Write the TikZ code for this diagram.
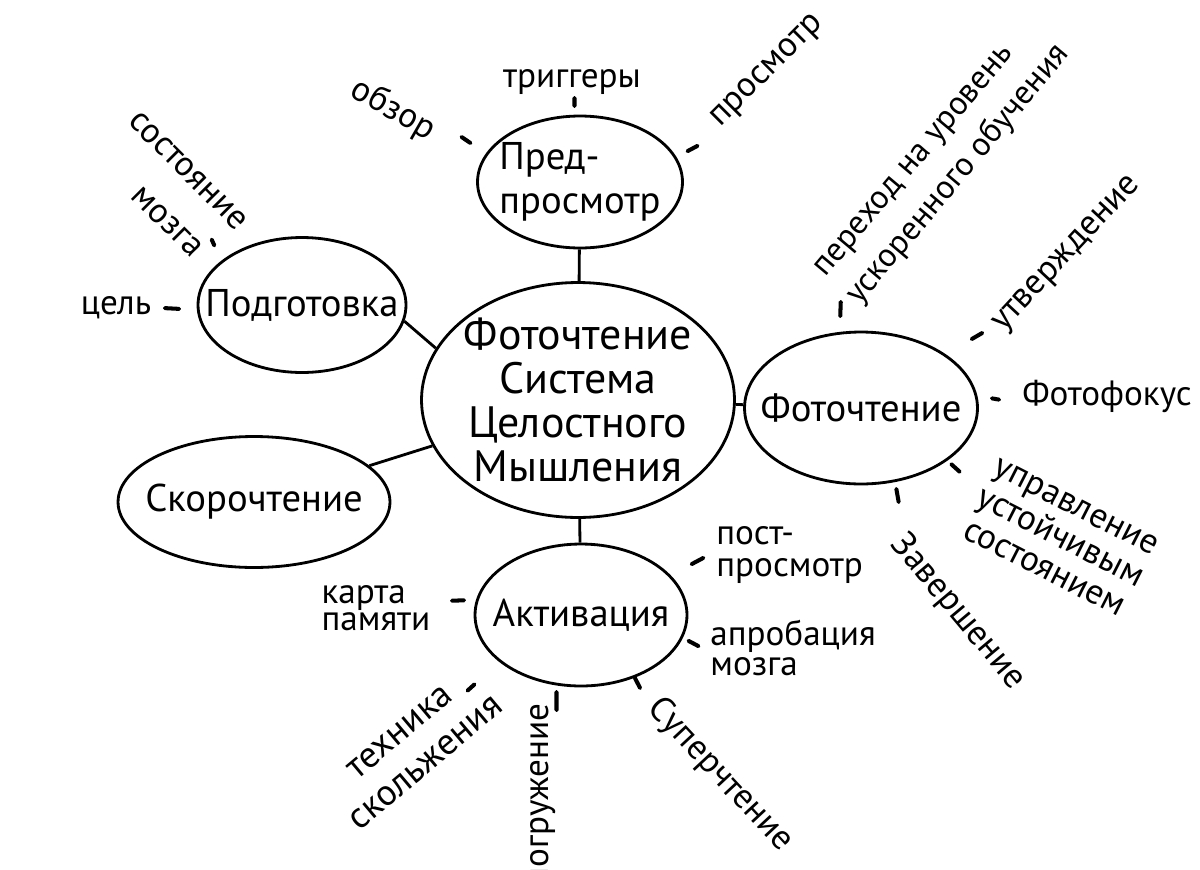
\documentclass[tikz,border=0pt]{standalone}
\usepackage{fontspec}
\setmainfont{PT Sans}
\usetikzlibrary{shapes.geometric}

\begin{document}
\begin{tikzpicture}[
  x=0.02cm, y=-0.02cm,
  every node/.style={inner sep=0pt, font=\fontsize{20}{18}\selectfont}
]
\tikzset{
  krug/.style={draw, ellipse, line width=1.6pt, inner xsep=-30pt, inner ysep=-20pt,
    font=\fontsize{22}{25}\selectfont},
  svyaz/.style={line width=1.6pt},
  shtrih/.style={fill, minimum height=2.3pt, minimum width=#1, rounded corners=1pt}
}
\useasboundingbox (0,0) rectangle (1200,869);

\node[krug, minimum width=6.26cm, minimum height=4.7cm, align=center,
  font=\fontsize{25}{25}\selectfont] (centr) at (578,400)
  {Фоточтение\\Система\\Целостного\\Мышления};
\node[krug, minimum width=4.1cm, minimum height=2.64cm, align=left] (pred) at (580,182) {Пред-\\просмотр};
\node[krug, minimum width=4.16cm, minimum height=2.7cm] (podg) at (302,305) {Подготовка};
\node[krug, minimum width=5.44cm, minimum height=2.62cm] (skor) at (254,502) {Скорочтение};
\node[krug, minimum width=4.66cm, minimum height=3.04cm] (foto) at (861,408) {Фоточтение};
\node[krug, minimum width=4.24cm, minimum height=2.84cm] (aktiv) at (581,615) {Активация};

\draw[svyaz] (centr) -- (pred);
\draw[svyaz] (centr) -- (aktiv);
\draw[svyaz] (centr) -- (foto);
\draw[svyaz] (podg.-9) -- (centr.160);
\draw[svyaz] (skor) -- (centr);

% подписи вокруг овалов
\node[rotate=-30] (obzor) at (393,110) {обзор};
\node (trig) at (572,82) {триггеры};
\node[rotate=45] (prosm) at (768,72) {просмотр};
\node[rotate=-45, align=center, font=\fontsize{20}{29}\selectfont] (sost) at (170,189) {состояние\\\hspace*{1.2em}мозга};
\node (cel) at (116,308) {цель};
\node[rotate=50, align=left, font=\fontsize{19}{25}\selectfont] (perehod) at (944,163)
  {переход на уровень\\ускоренного обучения};
\node[rotate=47] (utv) at (1068,255) {утверждение};
\node (fotof) at (1107,396) {Фотофокус};
\node[rotate=-27, align=center, font=\fontsize{20}{20}\selectfont] (uprav) at (1060,538)
  {управление\\устойчивым\\состоянием};
\node[rotate=-50] (zaver) at (958,612) {Завершение};
\node[anchor=west, align=left] (post) at (716,555) {пост-\\просмотр};
\node[anchor=west, align=left, font=\fontsize{20}{17}\selectfont] (aprob) at (710,648) {апробация\\мозга};
\node[align=left, font=\fontsize{20}{15}\selectfont] (karta) at (376,608) {карта\\памяти};
\node[rotate=40, align=center, font=\fontsize{21}{23}\selectfont] (tehn) at (413,748) {техника\\скольжения};
\node[rotate=90] (pogr) at (543,795) {погружение};
\node[rotate=-47] (super) at (720,775) {Суперчтение};

% штрихи
\node[shtrih=8.2pt, rotate=-34] (sh1) at (466,140) {};
\node[shtrih=6.8pt, rotate=90] (sh2) at (574.5,102) {};
\node[shtrih=8.5pt, rotate=28] (sh3) at (692.5,148.5) {};
\node[shtrih=5.7pt, rotate=-66] (sh4) at (213,242.5) {};
\node[shtrih=10.2pt, rotate=-3] (sh5) at (172,308.5) {};
\node[shtrih=10.2pt, rotate=88] (sh6) at (840.5,309) {};
\node[shtrih=9pt, rotate=30] (sh7) at (977,336) {};
\node[shtrih=6.2pt, rotate=-10] (sh8) at (995.5,399) {};
\node[shtrih=8.5pt, rotate=-42] (sh9) at (955.5,468) {};
\node[shtrih=9.6pt, rotate=-80] (sh10) at (897.5,495.5) {};
\node[shtrih=9.6pt, rotate=28] (sh11) at (697.5,561) {};
\node[shtrih=8.5pt, rotate=-28] (sh12) at (693.5,643.5) {};
\node[shtrih=9pt, rotate=2] (sh13) at (458,600.5) {};
\node[shtrih=7.4pt, rotate=42] (sh14) at (471,687.5) {};
\node[shtrih=12.5pt, rotate=90] (sh15) at (556.5,701) {};
\node[shtrih=8.5pt, rotate=-63] (sh16) at (637.5,683) {};
\end{tikzpicture}
\end{document}
